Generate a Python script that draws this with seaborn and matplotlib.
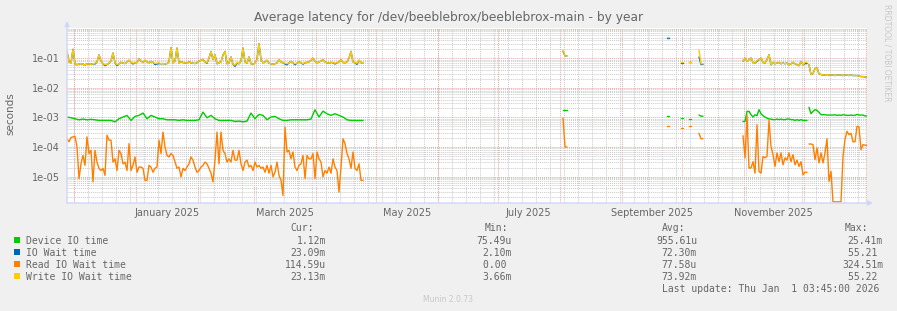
import pandas as pd
import seaborn as sns
import matplotlib.pyplot as plt
from matplotlib.patches import Rectangle
from matplotlib.ticker import LogLocator, NullFormatter

sns.set_style("white")
plt.rcParams['font.family'] = ['DejaVu Sans']

# year graph: 400 days, day 0 = left edge
t0 = pd.Timestamp("2024-11-27 16:00")
t1 = t0 + pd.Timedelta(days=400)

names = ["Device IO time", "IO Wait time", "Read IO Wait time", "Write IO Wait time"]
colors = ["#00CC00", "#0066B3", "#FF8000", "#FFCC00"]
cur = ["1.12m", "23.09m", "114.59u", "23.13m"]
mins = ["75.49u", "2.10m", "0.00 ", "3.66m"]
avgs = ["955.61u", "72.30m", "77.58u", "73.92m"]
maxs = ["25.41m", "55.21 ", "324.51m", "55.22 "]
month_labels = ["January 2025", "March 2025", "May 2025", "July 2025",
                "September 2025", "November 2025"]
label_months = ["2025-01", "2025-03", "2025-05", "2025-07", "2025-09", "2025-11"]

early_day, late1_day, late2_day = 0, 338, 371
frag_days = [248, 249, 300, 307, 311, 316, 317]

# Device IO time (early part read every 2nd day)
device_early = [1.03e-3, 9.7e-4, 9.0e-4, 8.3e-4, 8.8e-4, 8.3e-4, 8.6e-4, 8.3e-4, 7.9e-4, 7.9e-4,
                7.9e-4, 7.9e-4, 7.1e-4, 9.0e-4, 1.03e-3, 1.17e-3, 7.9e-4, 1.08e-3, 1.17e-3, 1.40e-3,
                9.0e-4, 1.17e-3, 1.03e-3, 9.0e-4, 9.0e-4, 8.3e-4, 8.3e-4, 8.3e-4, 7.9e-4, 8.3e-4,
                7.9e-4, 7.9e-4, 7.9e-4, 8.3e-4, 1.51e-3, 9.7e-4, 1.17e-3, 9.0e-4, 7.9e-4, 7.9e-4,
                7.9e-4, 7.9e-4, 7.3e-4, 7.5e-4, 7.1e-4, 7.5e-4, 1.40e-3, 9.0e-4, 1.26e-3, 1.17e-3,
                8.3e-4, 1.03e-3, 1.08e-3, 9.0e-4, 7.9e-4, 7.9e-4, 8.3e-4, 8.3e-4, 8.3e-4, 8.3e-4,
                8.3e-4, 8.8e-4, 1.81e-3, 1.03e-3, 1.63e-3, 1.33e-3, 1.17e-3, 1.33e-3, 1.17e-3, 1.03e-3,
                8.3e-4, 7.9e-4, 7.9e-4, 7.9e-4]
device_frag = [1.78e-3, 1.78e-3, 1.1e-3, 9.5e-4, 9.0e-4, 1.2e-3, 1.1e-3]
device_late1 = [7.3e-4, 7.3e-4, 1.6e-3, 1.6e-3, 1.23e-3, 1.03e-3, 1.23e-3, 1.14e-3, 1.82e-3, 1.33e-3,
                1.14e-3, 1.03e-3, 9.5e-4, 8.8e-4, 8.8e-4, 8.4e-4, 8.4e-4, 8.8e-4, 8.4e-4, 8.8e-4,
                8.4e-4, 8.4e-4, 8.8e-4, 8.8e-4, 8.4e-4, 8.4e-4, 7.9e-4, 8.4e-4, 7.9e-4, 8.4e-4,
                7.9e-4, 7.9e-4]
device_late2 = [2.2e-3, 1.33e-3, 1.6e-3, 1.82e-3, 1.73e-3, 1.48e-3, 1.23e-3, 1.23e-3, 1.23e-3, 1.2e-3,
                1.2e-3, 1.2e-3, 1.2e-3, 1.23e-3, 1.17e-3, 1.2e-3, 1.17e-3, 1.23e-3, 1.2e-3, 1.17e-3,
                1.17e-3, 1.2e-3, 1.17e-3, 1.17e-3, 1.26e-3, 1.2e-3, 1.2e-3, 1.2e-3, 1.12e-3]

# IO Wait time (almost the same as write wait, a little lower in a few dips)
iowait_early = [0.17, 0.075, 0.07, 0.20, 0.065, 0.06, 0.063, 0.066, 0.062, 0.06,
                0.063, 0.064, 0.062, 0.065, 0.064, 0.075, 0.13, 0.08, 0.065, 0.056,
                0.062, 0.068, 0.08, 0.15, 0.07, 0.056, 0.065, 0.072, 0.068, 0.066,
                0.075, 0.085, 0.072, 0.064, 0.07, 0.072, 0.095, 0.08, 0.072, 0.085,
                0.075, 0.07, 0.078, 0.072, 0.061, 0.064, 0.066, 0.065, 0.066, 0.064,
                0.066, 0.075, 0.23, 0.07, 0.08, 0.22, 0.07, 0.075, 0.072, 0.068,
                0.07, 0.075, 0.07, 0.068, 0.066, 0.07, 0.08, 0.085, 0.09, 0.075,
                0.068, 0.1, 0.17, 0.09, 0.13, 0.065, 0.07, 0.075, 0.13, 0.17,
                0.065, 0.07, 0.11, 0.062, 0.053, 0.068, 0.065, 0.08, 0.22, 0.075,
                0.068, 0.11, 0.065, 0.062, 0.07, 0.09, 0.31, 0.09, 0.07, 0.075,
                0.085, 0.068, 0.065, 0.062, 0.065, 0.07, 0.088, 0.075, 0.07, 0.064,
                0.06, 0.07, 0.078, 0.07, 0.06, 0.068, 0.075, 0.07, 0.063, 0.07,
                0.072, 0.075, 0.085, 0.1, 0.078, 0.07, 0.075, 0.08, 0.09, 0.075,
                0.07, 0.068, 0.072, 0.07, 0.064, 0.07, 0.075, 0.088, 0.072, 0.07,
                0.075, 0.1, 0.17, 0.075, 0.07, 0.062, 0.085, 0.07]
iowait_frag = [0.17, 0.12, 0.5, 0.069, 0.074, 0.11, 0.062]
iowait_late1 = [0.078, 0.101, 0.078, 0.089, 0.101, 0.072, 0.069, 0.079, 0.089, 0.101,
                0.072, 0.069, 0.089, 0.131, 0.060, 0.072, 0.065, 0.069, 0.072, 0.065,
                0.069, 0.065, 0.069, 0.060, 0.065, 0.072, 0.065, 0.060, 0.056, 0.078,
                0.060, 0.066]
iowait_late2 = [0.060, 0.028, 0.030, 0.045, 0.047, 0.030, 0.028, 0.027, 0.027, 0.028,
                0.027, 0.027, 0.027, 0.026, 0.027, 0.027, 0.027, 0.026, 0.027, 0.027,
                0.026, 0.027, 0.026, 0.026, 0.026, 0.025, 0.024, 0.024, 0.0231]

# Read IO Wait time
read_early = [1.9e-4, 1.5e-4, 2.1e-4, 2.2e-4, 2.3e-4, 1.0e-4, 8.6e-6, 2.7e-5, 5.2e-5, 2.4e-5,
              2.2e-4, 6.0e-5, 7.7e-5, 6.6e-6, 7.7e-5, 3.1e-5, 1.9e-5, 1.6e-5, 1.9e-5, 1.1e-5,
              2.5e-4, 1.7e-4, 1.7e-4, 3.1e-5, 4.0e-5, 1.6e-5, 7.7e-5, 6.0e-5, 2.7e-5, 3.1e-5,
              1.6e-5, 1.3e-4, 1.6e-5, 2.4e-5, 4.6e-5, 1.4e-5, 2.1e-5, 2.1e-5, 1.9e-5, 7.5e-6,
              7.5e-6, 2.4e-5, 2.1e-5, 1.4e-5, 1.9e-5, 2.1e-5, 1.7e-4, 6.0e-5, 3.2e-4, 1.0e-4,
              5.2e-5, 4.6e-5, 6.0e-5, 5.2e-5, 3.1e-5, 1.9e-5, 2.1e-5, 9.8e-6, 1.9e-5, 1.6e-5,
              2.1e-5, 2.7e-5, 4.6e-5, 3.6e-5, 2.1e-5, 1.4e-5, 1.6e-5, 2.1e-5, 2.4e-5, 3.1e-5,
              2.7e-5, 1.9e-5, 1.3e-5, 6.6e-6, 3.6e-5, 3.2e-4, 2.7e-5, 3.2e-4, 7.7e-5, 6.0e-5,
              3.1e-5, 4.0e-5, 3.1e-5, 7.7e-5, 3.6e-5, 3.6e-5, 7.7e-5, 2.7e-5, 1.6e-5, 3.1e-5,
              3.6e-5, 2.1e-5, 2.4e-5, 1.6e-5, 3.1e-5, 2.1e-5, 2.4e-5, 1.9e-5, 2.1e-5, 1.4e-5,
              2.4e-5, 1.3e-5, 2.4e-5, 9.8e-6, 1.4e-5, 3.1e-5, 1.1e-5, 7.5e-6, 2.3e-6, 4.7e-4,
              6.8e-5, 7.7e-5, 4.0e-5, 6.8e-5, 2.1e-5, 1.6e-5, 2.4e-5, 2.7e-5, 5.2e-5, 8.6e-6,
              5.2e-5, 4.0e-5, 4.0e-5, 6.0e-5, 8.6e-6, 6.8e-5, 4.0e-5, 3.1e-5, 9.8e-6, 1.6e-5,
              1.3e-5, 2.1e-5, 1.3e-5, 4.0e-5, 2.1e-5, 1.6e-5, 3.0e-6, 2.1e-5, 1.9e-4, 1.3e-4,
              6.0e-5, 4.0e-5, 1.9e-5, 6.8e-5, 1.9e-5, 1.6e-5, 2.7e-5, 7.5e-6]
read_frag = [9.5e-4, 1.0e-4, 5.1e-4, 4.4e-4, 5.1e-4, 2.9e-4, 1.9e-4]
read_late1 = [2.4e-4, 4.3e-5, 1.2e-3, 1.95e-5, 1.95e-5, 3.2e-5, 1.3e-5, 5.6e-4, 1.5e-5, 1.3e-5,
              4.8e-5, 4.3e-5, 4.8e-5, 7.9e-4, 1.05e-4, 5.5e-5, 2.2e-5, 6.3e-5, 3.2e-5, 6.3e-5,
              2.5e-5, 4.3e-5, 3.6e-5, 6.3e-5, 3.2e-5, 5.5e-5, 2.5e-5, 3.6e-5, 2.2e-5, 3.2e-5,
              1.15e-5, 1.4e-5]
read_late2 = [1.26e-4, 1.26e-4, 1.2e-4, 3.7e-5, 9.3e-5, 2.9e-5, 6.3e-5, 2.9e-5, 6.3e-5, 1.9e-4,
              6.9e-6, 1.5e-5, 1.4e-6, 1.4e-6, 1.4e-6, 1.4e-6, 1.4e-6, 4.8e-5, 1.8e-4, 3.4e-4,
              2.6e-4, 2.9e-4, 1.5e-4, 1.5e-4, 5.0e-4, 4.8e-4, 8.1e-5, 1.2e-4, 1.15e-4]

# Write IO Wait time
write_early = [0.17, 0.075, 0.07, 0.20, 0.065, 0.06, 0.063, 0.066, 0.062, 0.06,
               0.063, 0.064, 0.062, 0.065, 0.068, 0.075, 0.13, 0.08, 0.065, 0.06,
               0.062, 0.068, 0.08, 0.15, 0.07, 0.06, 0.065, 0.072, 0.068, 0.066,
               0.075, 0.085, 0.072, 0.068, 0.07, 0.072, 0.095, 0.08, 0.072, 0.085,
               0.075, 0.07, 0.078, 0.072, 0.066, 0.068, 0.07, 0.065, 0.066, 0.064,
               0.066, 0.075, 0.23, 0.07, 0.08, 0.22, 0.07, 0.075, 0.072, 0.068,
               0.07, 0.075, 0.07, 0.068, 0.066, 0.07, 0.08, 0.085, 0.09, 0.075,
               0.072, 0.1, 0.17, 0.09, 0.13, 0.065, 0.07, 0.075, 0.13, 0.17,
               0.065, 0.07, 0.11, 0.062, 0.058, 0.072, 0.065, 0.08, 0.22, 0.075,
               0.068, 0.11, 0.065, 0.062, 0.07, 0.09, 0.31, 0.09, 0.07, 0.075,
               0.085, 0.068, 0.065, 0.062, 0.065, 0.07, 0.088, 0.075, 0.07, 0.068,
               0.065, 0.07, 0.078, 0.07, 0.065, 0.068, 0.075, 0.07, 0.066, 0.07,
               0.072, 0.075, 0.085, 0.1, 0.078, 0.07, 0.075, 0.08, 0.09, 0.075,
               0.07, 0.068, 0.072, 0.07, 0.068, 0.07, 0.075, 0.088, 0.072, 0.07,
               0.075, 0.1, 0.17, 0.075, 0.07, 0.068, 0.085, 0.07]
write_frag = [0.19, 0.12, 0.52, 0.074, 0.074, 0.19, 0.065]
write_late1 = [0.078, 0.101, 0.078, 0.089, 0.101, 0.072, 0.069, 0.085, 0.089, 0.101,
               0.072, 0.069, 0.089, 0.131, 0.060, 0.072, 0.065, 0.069, 0.072, 0.065,
               0.069, 0.065, 0.069, 0.060, 0.065, 0.072, 0.065, 0.060, 0.056, 0.078,
               0.060, 0.072]
write_late2 = [0.060, 0.028, 0.030, 0.045, 0.047, 0.030, 0.028, 0.027, 0.027, 0.028,
               0.027, 0.027, 0.027, 0.026, 0.027, 0.027, 0.027, 0.026, 0.027, 0.027,
               0.026, 0.027, 0.026, 0.026, 0.026, 0.025, 0.024, 0.024, 0.0231]


def day_range(first, n, step=1):
    return list(range(first, first + n * step, step))


def runs(days, vals, step):
    # split into runs of consecutive days (rrd leaves gaps for unknown values)
    out = [[(days[0], vals[0])]]
    for d, v, prev in zip(days[1:], vals[1:], days[:-1]):
        if d - prev != step:
            out.append([])
        out[-1].append((d, v))
    return out


series = {
    names[0]: [(day_range(early_day, len(device_early), 2), 2, device_early),
               (frag_days, 1, device_frag),
               (day_range(late1_day, len(device_late1)), 1, device_late1),
               (day_range(late2_day, len(device_late2)), 1, device_late2)],
    names[1]: [(day_range(early_day, len(iowait_early)), 1, iowait_early),
               (frag_days, 1, iowait_frag),
               (day_range(late1_day, len(iowait_late1)), 1, iowait_late1),
               (day_range(late2_day, len(iowait_late2)), 1, iowait_late2)],
    names[2]: [(day_range(early_day, len(read_early)), 1, read_early),
               (frag_days, 1, read_frag),
               (day_range(late1_day, len(read_late1)), 1, read_late1),
               (day_range(late2_day, len(read_late2)), 1, read_late2)],
    names[3]: [(day_range(early_day, len(write_early)), 1, write_early),
               (frag_days, 1, write_frag),
               (day_range(late1_day, len(write_late1)), 1, write_late1),
               (day_range(late2_day, len(write_late2)), 1, write_late2)],
}

rows = []
seg = 0
for name, parts in series.items():
    for days, step, vals in parts:
        for run in runs(days, vals, step):
            # last value also covers its whole step, so lone values show as a dash
            run = run + [(run[-1][0] + step, run[-1][1])]
            for d, v in run:
                rows.append({"time": t0 + pd.Timedelta(days=d), "value": v,
                             "series": name, "seg": seg})
            seg += 1
df = pd.DataFrame(rows)

font_c = "#666666"
grid_c = "#CACACA"
mgrid_c = "#E8A8A8"
axis_c = "#CFD6F8"

fig = plt.figure(figsize=(8.97, 3.11), dpi=100, facecolor="#F0F0F0")
ax = fig.add_axes([67 / 897, 1 - 203 / 311, 800 / 897, 175 / 311])
ax.set_facecolor("white")

sns.lineplot(data=df, x="time", y="value", hue="series", hue_order=names, palette=colors,
             units="seg", estimator=None, linewidth=1.0, legend=False, ax=ax)

ax.set_yscale("log")
ax.set_ylim(1.28e-6, 1.05)
ax.set_xlim(t0, t1)

# grid: weeks / months, decades
for t in pd.date_range("2024-12-01", t1, freq="W-SUN"):
    ax.axvline(t, color=grid_c, lw=0.7, ls=(0, (1, 1)), zorder=0)
for t in pd.date_range("2024-12-01", t1, freq="MS"):
    ax.axvline(t, color=mgrid_c, lw=0.7, ls=(0, (1, 1)), zorder=0)

ax.set_yticks([1e-5, 1e-4, 1e-3, 1e-2, 1e-1, 1.0])
ax.set_yticklabels(["1e-05", "1e-04", "1e-03", "1e-02", "1e-01", ""])
ax.yaxis.set_minor_locator(LogLocator(base=10, subs=range(2, 10), numticks=20))
ax.yaxis.set_minor_formatter(NullFormatter())
ax.grid(axis="y", which="minor", color=grid_c, lw=0.7, ls=(0, (1, 1)))
ax.grid(axis="y", which="major", color=mgrid_c, lw=0.7, ls=(0, (1, 1)))
ax.set_axisbelow(True)

label_pos = []
for m in label_months:
    a = pd.Timestamp(m + "-01")
    b = a + pd.offsets.MonthBegin(1)
    label_pos.append(a + (b - a) / 2)
ax.set_xticks(label_pos)
ax.set_xticklabels(month_labels)
ax.tick_params(which="both", length=0, labelsize=7, colors=font_c)
ax.tick_params(axis="x", pad=3.5)
ax.tick_params(axis="y", pad=5)
ax.set_xlabel("")
ax.set_ylabel("")
for s in ax.spines.values():
    s.set_visible(False)

# axes with arrows
ax.annotate("", xy=(0, 1.04), xytext=(0, 0), xycoords="axes fraction",
            arrowprops=dict(arrowstyle="-|>", color=axis_c, lw=1, mutation_scale=7,
                            shrinkA=0, shrinkB=0), annotation_clip=False)
ax.annotate("", xy=(1.0075, 0), xytext=(0, 0), xycoords="axes fraction",
            arrowprops=dict(arrowstyle="-|>", color=axis_c, lw=1, mutation_scale=7,
                            shrinkA=0, shrinkB=0), annotation_clip=False)

W, H = 897, 311
fig.text(0.5, 1 - 18 / H, "Average latency for /dev/beeblebrox/beeblebrox-main - by year",
         ha="center", va="center", fontsize=8.8, color=font_c)
fig.text(10 / W, 1 - 114 / H, "seconds", rotation=90, ha="center", va="center",
         fontsize=7.5, color=font_c)
fig.text(887 / W, 1 - 53 / H, "RRDTOOL / TOBI OETIKER", rotation=270, ha="center",
         va="center", fontsize=5.5, color="#C8C8C8")

# legend block
mono = dict(family="DejaVu Sans Mono", fontsize=7, color=font_c, va="baseline")
fig.text(313.5 / W, 1 - 231 / H, "Cur:", ha="right", **mono)
fig.text(485 / W, 1 - 231 / H, "Min:", ha="left", **mono)
fig.text(662 / W, 1 - 231 / H, "Avg:", ha="left", **mono)
fig.text(845 / W, 1 - 231 / H, "Max:", ha="left", **mono)
for i, name in enumerate(names):
    yc = 240 + 12 * i
    yb = 1 - (yc + 3.5) / H
    fig.add_artist(Rectangle((14 / W, 1 - (yc + 3) / H), 6 / W, 6 / H,
                             transform=fig.transFigure, color=colors[i], lw=0))
    fig.text(26 / W, yb, name, ha="left", **mono)
    fig.text(326 / W, yb, cur[i], ha="right", **mono)
    fig.text(512 / W, yb, mins[i], ha="right", **mono)
    fig.text(697 / W, yb, avgs[i], ha="right", **mono)
    fig.text(883 / W, yb, maxs[i], ha="right", **mono)
fig.text(662 / W, 1 - 291.5 / H, "Last update: Thu Jan  1 03:45:00 2026", ha="left", **mono)
fig.text(448 / W, 1 - 300 / H, "Munin 2.0.73", ha="center", va="center", fontsize=5.5,
         color="#C8C8C8")

fig.savefig("out.png", dpi=100, facecolor=fig.get_facecolor())
